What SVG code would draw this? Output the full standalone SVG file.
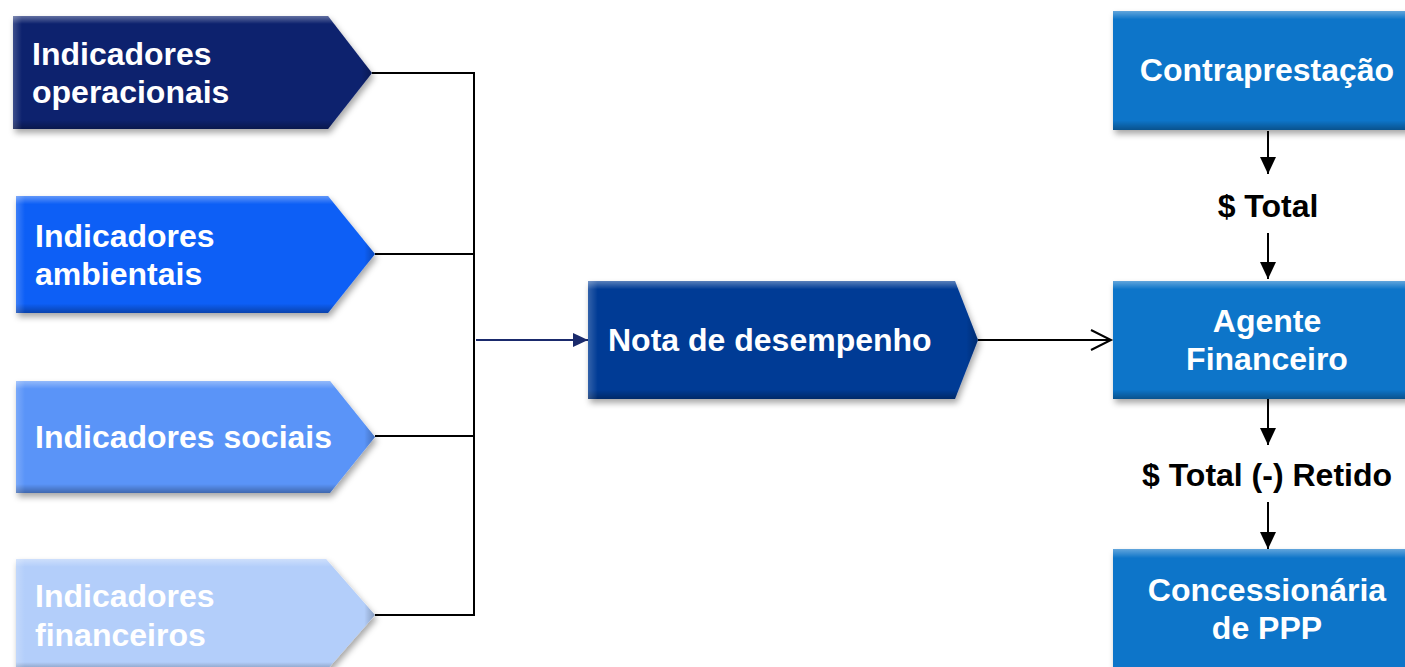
<svg xmlns="http://www.w3.org/2000/svg" width="1405" height="667" viewBox="0 0 1405 667">
<style>
.lbl{font-family:"Liberation Sans",Arial,sans-serif;font-weight:bold;font-size:32px;fill:#ffffff}
.mid{text-anchor:middle}
.dark{fill:#000000}
.conn{fill:none;stroke:#000000;stroke-width:2}
</style>
<defs>
<filter id="sh" x="-10%" y="-10%" width="130%" height="130%">
<feDropShadow dx="2" dy="4" stdDeviation="3" flood-color="#000" flood-opacity="0.35"/>
</filter>
<linearGradient id="bevV" x1="0" y1="0" x2="0" y2="1">
<stop offset="0" stop-color="#fff" stop-opacity="0.35"/>
<stop offset="0.07" stop-color="#fff" stop-opacity="0"/>
<stop offset="0.92" stop-color="#000" stop-opacity="0"/>
<stop offset="1" stop-color="#000" stop-opacity="0.3"/>
</linearGradient>
<linearGradient id="bevH" x1="0" y1="0" x2="1" y2="0">
<stop offset="0" stop-color="#fff" stop-opacity="0.2"/>
<stop offset="0.025" stop-color="#fff" stop-opacity="0"/>
<stop offset="0.97" stop-color="#000" stop-opacity="0"/>
<stop offset="1" stop-color="#000" stop-opacity="0.25"/>
</linearGradient>
<marker id="fill" markerWidth="16" markerHeight="14" refX="15" refY="7" orient="auto" markerUnits="userSpaceOnUse">
<path d="M0,0 L15,7 L0,14 Z" fill="#1a2a6c"/>
</marker>
<marker id="open" markerWidth="24" markerHeight="24" refX="21" refY="11" orient="auto" markerUnits="userSpaceOnUse">
<path d="M1,1 L21,11 L1,21" fill="none" stroke="#000" stroke-width="2"/>
</marker>
<marker id="down" markerWidth="16" markerHeight="18" refX="8" refY="17" orient="auto-start-reverse" markerUnits="userSpaceOnUse">
<path d="M0,0 L16,0 L8,17 Z" fill="#000"/>
</marker>
</defs>

<g id="connectors">
<path class="conn" d="M372,73 H474 V615 H375"/>
<path class="conn" d="M375,254 H474"/>
<path class="conn" d="M375,436 H474"/>
<path d="M476,340 H588" fill="none" stroke="#1a2a6c" stroke-width="2" marker-end="url(#fill)"/>
<path class="conn" d="M978,340 H1111" marker-end="url(#open)"/>
<path class="conn" d="M1268,131 V174"/>
<path d="M1260,157 L1276,157 L1268,174 Z" fill="#000"/>
<path class="conn" d="M1268,233 V279"/>
<path d="M1260,262 L1276,262 L1268,279 Z" fill="#000"/>
<path class="conn" d="M1268,399 V445"/>
<path d="M1260,428 L1276,428 L1268,445 Z" fill="#000"/>
<path class="conn" d="M1268,502 V549"/>
<path d="M1260,532 L1276,532 L1268,549 Z" fill="#000"/>
</g>

<g id="ind-operacionais">
<polygon points="13,16 328,16 372,73 328,129 13,129" fill="#0b216e" filter="url(#sh)"/>
<polygon points="13,16 328,16 372,73 328,129 13,129" fill="url(#bevV)"/>
<polygon points="13,16 328,16 372,73 328,129 13,129" fill="url(#bevH)"/>
<text class="lbl" x="32" y="65">Indicadores</text>
<text class="lbl" x="32" y="103">operacionais</text>
</g>

<g id="ind-ambientais">
<polygon points="16,196 328,196 375,254 328,313 16,313" fill="#0b5ff6" filter="url(#sh)"/>
<polygon points="16,196 328,196 375,254 328,313 16,313" fill="url(#bevV)"/>
<polygon points="16,196 328,196 375,254 328,313 16,313" fill="url(#bevH)"/>
<text class="lbl" x="35" y="247">Indicadores</text>
<text class="lbl" x="35" y="285">ambientais</text>
</g>

<g id="ind-sociais">
<polygon points="16,381 330,381 375,437 330,493 16,493" fill="#5a94f8" filter="url(#sh)"/>
<polygon points="16,381 330,381 375,437 330,493 16,493" fill="url(#bevV)"/>
<polygon points="16,381 330,381 375,437 330,493 16,493" fill="url(#bevH)"/>
<text class="lbl" x="35" y="448">Indicadores sociais</text>
</g>

<g id="ind-financeiros">
<polygon points="16,559 326,559 375,615 326,671 16,671" fill="#b3cefa" filter="url(#sh)"/>
<polygon points="16,559 326,559 375,615 326,671 16,671" fill="url(#bevV)"/>
<polygon points="16,559 326,559 375,615 326,671 16,671" fill="url(#bevH)"/>
<text class="lbl" x="35" y="607">Indicadores</text>
<text class="lbl" x="35" y="646">financeiros</text>
</g>

<g id="nota">
<polygon points="588,281 955,281 978,340 955,399 588,399" fill="#063b95" filter="url(#sh)"/>
<polygon points="588,281 955,281 978,340 955,399 588,399" fill="url(#bevV)"/>
<polygon points="588,281 955,281 978,340 955,399 588,399" fill="url(#bevH)"/>
<text class="lbl" x="608" y="351">Nota de desempenho</text>
</g>

<g id="contraprestacao">
<rect x="1113" y="11" width="300" height="119" fill="#0a74c9" filter="url(#sh)"/>
<rect x="1113" y="11" width="300" height="119" fill="url(#bevV)"/>
<text class="lbl mid" x="1267" y="81">Contraprestação</text>
</g>

<g id="label-total">
<text class="lbl mid dark" x="1268" y="217">$ Total</text>
</g>

<g id="agente">
<rect x="1113" y="281" width="300" height="118" fill="#0a74c9" filter="url(#sh)"/>
<rect x="1113" y="281" width="300" height="118" fill="url(#bevV)"/>
<text class="lbl mid" x="1267" y="332">Agente</text>
<text class="lbl mid" x="1267" y="370">Financeiro</text>
</g>

<g id="label-retido">
<text class="lbl mid dark" x="1267" y="486">$ Total (-) Retido</text>
</g>

<g id="concessionaria">
<rect x="1113" y="549" width="300" height="130" fill="#0a74c9" filter="url(#sh)"/>
<rect x="1113" y="549" width="300" height="130" fill="url(#bevV)"/>
<text class="lbl mid" x="1267" y="601">Concessionária</text>
<text class="lbl mid" x="1267" y="639">de PPP</text>
</g>
</svg>
